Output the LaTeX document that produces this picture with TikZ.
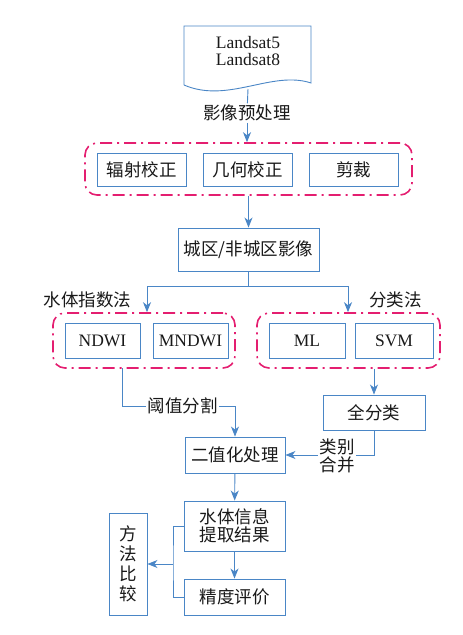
\documentclass[tikz,border=0pt]{standalone}
\usepackage{fontspec}
\setmainfont{Liberation Serif}
\newfontfamily\cjk{Noto Sans CJK SC}
\usetikzlibrary{arrows.meta}
\definecolor{boxblue}{RGB}{74,134,198}
\definecolor{grpred}{RGB}{228,30,112}
\tikzset{
  box/.style={draw=boxblue, line width=0.9pt, fill=white, inner sep=0pt, text=black!90,
    font=\cjk\fontsize{17.5}{20}\selectfont},
  ltn/.style={font=\fontsize{17.5}{20}\selectfont},
  grp/.style={draw=grpred, line width=1.6pt, rounded corners=12pt,
    dash pattern=on 12pt off 5pt on 2pt off 5pt, inner sep=0pt},
  lbl/.style={fill=white, inner sep=1.5pt, text=black!90, font=\cjk\fontsize{17.5}{20}\selectfont},
  ln/.style={draw=boxblue, line width=0.9pt},
  arr/.style={ln, -{Stealth[length=10pt, width=8pt, inset=3pt]}}
}
\begin{document}
\begin{tikzpicture}[x=1pt, y=-1pt]
\useasboundingbox (0,0) rectangle (463,635);
% source images
\draw[ln, fill=white] (184,85) -- (184,26) -- (311,26) -- (311,83)
  .. controls (272,70) and (228,104) .. (184,85);
\node[ltn, align=center, text=black!90] (src) at (248,51) {Landsat5\\[-3pt]Landsat8};
\coordinate (srcb) at (248,89);
\node[lbl] (pre) at (247,113) {影像预处理};

\node[grp, minimum width=327pt, minimum height=52pt] (grp1) at (248.5,169) {};
\node[box, minimum width=89pt, minimum height=33pt] (rad) at (141.5,169.5) {辐射校正};
\node[box, minimum width=89pt, minimum height=33pt] (geo) at (247.5,169.5) {几何校正};
\node[box, minimum width=89pt, minimum height=33pt] (cut) at (353.5,169.5) {剪裁};
\draw[ln] (srcb) -- (pre);
\draw[arr] (pre) -- (grp1.north -| pre);

\node[box, minimum width=141pt, minimum height=43pt] (city) at (248.5,249.5) {城区/非城区影像};
\draw[arr] (grp1.south -| city) -- (city);

% two methods
\node[grp, minimum width=182pt, minimum height=55pt] (grp2) at (144,340.5) {};
\node[grp, minimum width=183pt, minimum height=55pt] (grp3) at (348.5,340.5) {};
\node[box, ltn, minimum width=75pt, minimum height=35pt] (ndwi) at (102.5,340.5) {NDWI};
\node[box, ltn, minimum width=75pt, minimum height=35pt] (mndwi) at (190.5,340.5) {MNDWI};
\node[box, ltn, minimum width=76pt, minimum height=35pt] (ml) at (307,340.5) {ML};
\node[box, ltn, minimum width=78pt, minimum height=35pt] (svm) at (394,340.5) {SVM};
\node[lbl] (widx) at (87.5,300) {水体指数法};
\node[lbl] (cls) at (395.5,300) {分类法};
\coordinate (br) at (248.5,286);
\coordinate (brl) at (147,286);
\coordinate (brr) at (348,286);
\draw[ln] (city) -- (br);
\draw[arr] (br) -- (brl) -- (grp2.north -| brl);
\draw[arr] (br) -- (brr) -- (grp3.north -| brr);

\node[lbl] (thr) at (182.5,406) {阈值分割};
\node[box, minimum width=102pt, minimum height=35pt] (all) at (374,412.5) {全分类};
\node[box, minimum width=100pt, minimum height=36pt] (bin) at (235,455) {二值化处理};
\node[lbl, align=center, font=\cjk\fontsize{17.5}{18}\selectfont] (merge) at (337,456) {类别\\合并};
\coordinate (g2o) at (122,368);
\draw[ln] (g2o) |- (thr);
\draw[arr] (thr) -| (bin);
\draw[arr] (grp3.south -| all) -- (all);
\draw[ln] (all) |- (merge.east |- bin);
\draw[arr] (merge.west |- bin) -- (bin);

% results
\node[box, align=center, font=\cjk\fontsize{17.5}{18.5}\selectfont, minimum width=101pt, minimum height=50pt] (res) at (234.5,526) {水体信息\\提取结果};
\node[box, minimum width=101pt, minimum height=36pt] (acc) at (234.5,597) {精度评价};
\node[box, align=center, font=\cjk\fontsize{17.5}{20}\selectfont, minimum width=38pt, minimum height=102pt] (cmp) at (128,564) {方\\法\\比\\较};
\draw[arr] (bin) -- (res);
\draw[arr] (res) -- (acc);
\coordinate (jn) at (173,564);
\draw[ln] (res.west) -| (jn) |- (acc.west);
\draw[arr] (jn) -- (cmp);
\end{tikzpicture}
\end{document}
